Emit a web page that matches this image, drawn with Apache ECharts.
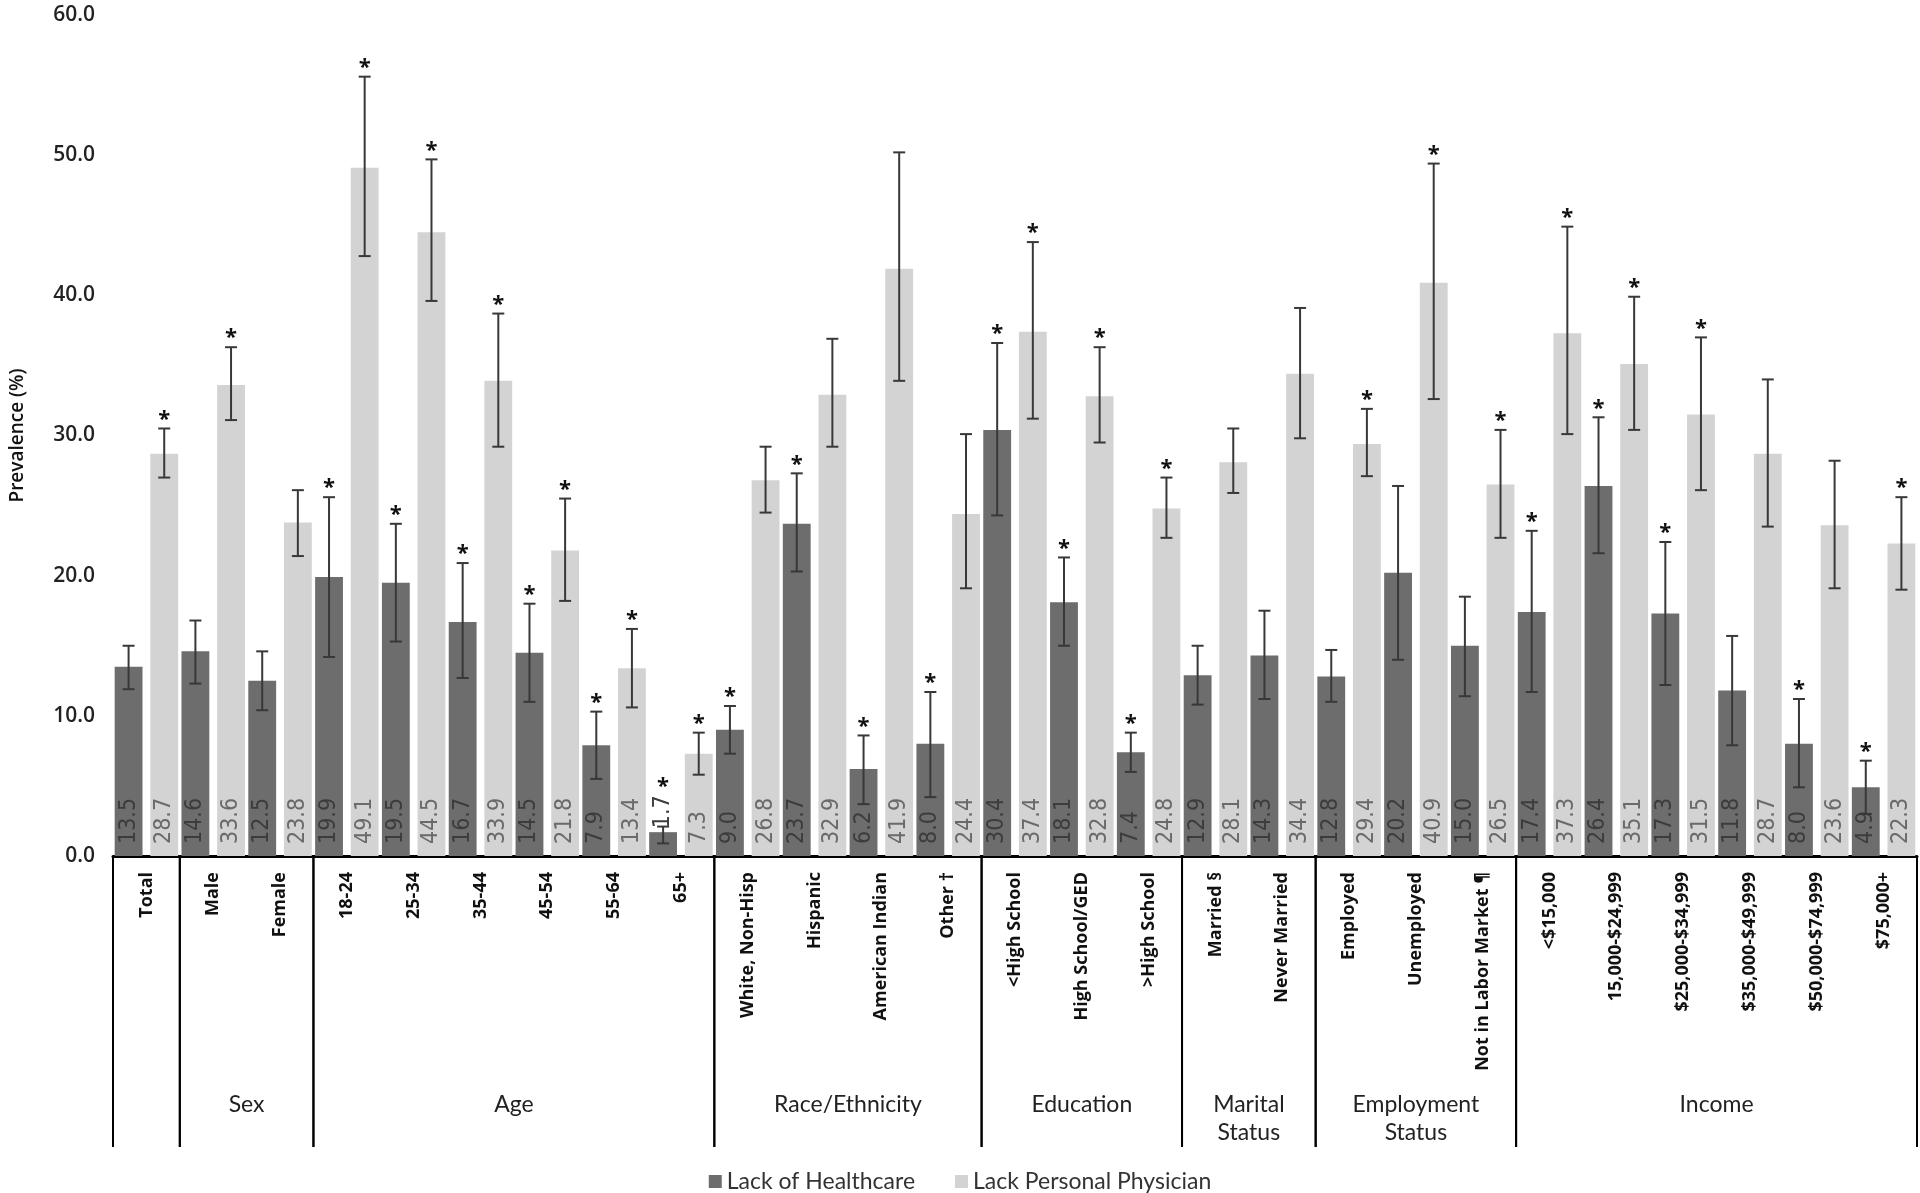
<!DOCTYPE html>
<html>
<head>
<meta charset="utf-8">
<script src="https://cdn.jsdelivr.net/npm/echarts@6/dist/echarts.min.js"></script>
<style>
  html, body { margin: 0; padding: 0; background: #fff; }
  .chart { width: 1920px; height: 1193px; }
</style>
</head>
<body>
<div class="chart"></div>
<script>
// categories along the x axis
var categories = ['Total', 'Male', 'Female', '18-24', '25-34', '35-44', '45-54', '55-64', '65+',
  'White, Non-Hisp', 'Hispanic', 'American Indian', 'Other \u2020',
  '<High School', 'High School/GED', '>High School',
  'Married \u00a7', 'Never Married',
  'Employed', 'Unemployed', 'Not in Labor Market \u00b6',
  '<$15,000', '15,000-$24,999', '$25,000-$34,999', '$35,000-$49,999', '$50,000-$74,999', '$75,000+'];

// Lack of Healthcare
var careValues = [13.5, 14.6, 12.5, 19.9, 19.5, 16.7, 14.5, 7.9, 1.7, 9.0, 23.7, 6.2, 8.0, 30.4, 18.1, 7.4, 12.9, 14.3, 12.8, 20.2, 15.0, 17.4, 26.4, 17.3, 11.8, 8.0, 4.9];
var careLow = [11.9, 12.3, 10.4, 14.2, 15.3, 12.7, 11.0, 5.5, 0.9, 7.3, 20.3, 3.7, 4.2, 24.3, 15.0, 6.0, 10.8, 11.2, 11.0, 14.0, 11.4, 11.7, 21.6, 12.2, 7.9, 4.9, 3.0];
var careHigh = [15.0, 16.8, 14.6, 25.6, 23.7, 20.9, 18.0, 10.3, 2.1, 10.7, 27.3, 8.6, 11.7, 36.6, 21.3, 8.8, 15.0, 17.5, 14.7, 26.4, 18.5, 23.2, 31.3, 22.4, 15.7, 11.2, 6.8];
var careStar = [0, 0, 0, 1, 1, 1, 1, 1, 1, 1, 1, 1, 1, 1, 1, 1, 0, 0, 0, 0, 0, 1, 1, 1, 0, 1, 1];

// Lack Personal Physician
var physValues = [28.7, 33.6, 23.8, 49.1, 44.5, 33.9, 21.8, 13.4, 7.3, 26.8, 32.9, 41.9, 24.4, 37.4, 32.8, 24.8, 28.1, 34.4, 29.4, 40.9, 26.5, 37.3, 35.1, 31.5, 28.7, 23.6, 22.3];
var physLow = [27.0, 31.1, 21.4, 42.8, 39.6, 29.2, 18.2, 10.6, 5.8, 24.5, 29.2, 33.9, 19.1, 31.2, 29.5, 22.7, 25.9, 29.8, 27.1, 32.6, 22.7, 30.1, 30.4, 26.1, 23.5, 19.1, 19.0];
var physHigh = [30.5, 36.3, 26.1, 55.6, 49.7, 38.7, 25.5, 16.2, 8.8, 29.2, 36.9, 50.2, 30.1, 43.8, 36.3, 27.0, 30.5, 39.1, 31.9, 49.4, 30.4, 44.9, 39.9, 37.0, 34.0, 28.2, 25.6];
var physStar = [1, 1, 0, 1, 1, 1, 1, 1, 1, 0, 0, 0, 0, 1, 1, 1, 0, 0, 1, 1, 1, 1, 1, 1, 0, 0, 1];

// category groups under the axis
var groupNames = ['', 'Sex', 'Age', 'Race/Ethnicity', 'Education', 'Marital\nStatus', 'Employment\nStatus', 'Income'];
var groupStart = [0, 1, 3, 9, 13, 16, 18, 21];
var groupEnd = [0, 2, 8, 12, 15, 17, 20, 26];

var yTicks = [0, 10, 20, 30, 40, 50, 60];

var CAT_GAP = 0.05, BAR_GAP = 0.28;
var SMALL = 3; // bars too short for an inside label
var narrow = '"Liberation Sans Narrow", "DejaVu Sans Condensed", sans-serif';

var chart = echarts.init(document.getElementsByClassName('chart')[0]);

// error bar + asterisk, sign = -1 for left bar, +1 for right bar
function errorBars(sign) {
  return function (params, api) {
    var i = api.value(0);
    var lo = api.coord([i, api.value(1)]);
    var hi = api.coord([i, api.value(2)]);
    var band = api.size([1, 0])[0];
    var bw = band * (1 - CAT_GAP) / (2 + BAR_GAP);
    var x = lo[0] + sign * (bw + bw * BAR_GAP) / 2;
    var cap = 6;
    var st = { stroke: '#383838', lineWidth: 2 };
    var kids = [
      { type: 'line', shape: { x1: x, y1: lo[1], x2: x, y2: hi[1] }, style: st },
      { type: 'line', shape: { x1: x - cap, y1: hi[1], x2: x + cap, y2: hi[1] }, style: st },
      { type: 'line', shape: { x1: x - cap, y1: lo[1], x2: x + cap, y2: lo[1] }, style: st }
    ];
    if (api.value(3)) {
      var v = api.value(4);
      var sy = hi[1] + 2;
      // short bar: label sits on top, star goes above the label
      if (v < SMALL) sy = api.coord([i, v])[1] - 34;
      kids.push({
        type: 'text',
        style: { text: '*', x: x, y: sy, align: 'center', verticalAlign: 'bottom',
          fill: '#111', font: 'bold 22px "Open Sans"' }
      });
    }
    return { type: 'group', children: kids };
  };
}

// group boxes and names below the axis
function groupBoxes(params, api) {
  var band = api.size([1, 0])[0];
  var p0 = api.coord([api.value(0), 0]);
  var p1 = api.coord([api.value(1), 0]);
  var x0 = p0[0] - band / 2, x1 = p1[0] + band / 2, y = p0[1];
  var st = { stroke: '#000', lineWidth: 2 };
  return {
    type: 'group',
    children: [
      { type: 'line', shape: { x1: x0, y1: y, x2: x0, y2: y + 291 }, style: st },
      { type: 'line', shape: { x1: x1, y1: y, x2: x1, y2: y + 291 }, style: st },
      { type: 'text', style: { text: groupNames[params.dataIndex], x: (x0 + x1) / 2, y: y + 235,
          align: 'center', verticalAlign: 'top', fill: '#222', lineHeight: 28,
          font: '23px Lato' } }
    ]
  };
}

function barData(vals) {
  return vals.map(function (v) {
    if (v < SMALL) return { value: v, label: { position: 'top', distance: 4 } };
    return v;
  });
}

function valueLabel(color) {
  return {
    show: true, position: 'insideBottom', rotate: 90, align: 'left', verticalAlign: 'middle',
    distance: 12, color: color, fontFamily: narrow, fontSize: 23,
    formatter: function (p) { return p.value.toFixed(1); }
  };
}

var option = {
  animation: false,
  grid: { left: 111, right: 3, top: 15, bottom: 337 },
  legend: {
    data: ['Lack of Healthcare', 'Lack Personal Physician'],
    top: 1165,
    left: 'center',
    icon: 'rect',
    itemWidth: 13,
    itemHeight: 13,
    itemGap: 40,
    textStyle: { fontFamily: 'Lato', fontSize: 23, color: '#333' }
  },
  xAxis: {
    type: 'category',
    data: categories,
    axisLine: { lineStyle: { color: '#000', width: 3 } },
    axisTick: { show: false },
    axisLabel: {
      interval: 0,
      rotate: 90,
      margin: 16,
      color: '#111',
      fontFamily: 'Open Sans',
      fontWeight: 700,
      fontSize: 18
    }
  },
  yAxis: {
    type: 'value',
    min: 0,
    max: 60,
    interval: 10,
    name: 'Prevalence (%)',
    nameLocation: 'middle',
    nameGap: 86,
    nameTextStyle: { fontFamily: 'Open Sans', fontWeight: 600, fontSize: 19, color: '#111' },
    axisLine: { show: false },
    axisTick: { show: false },
    splitLine: { show: false },
    axisLabel: {
      margin: 18,
      color: '#222',
      fontFamily: 'Open Sans',
      fontWeight: 600,
      fontSize: 21,
      formatter: function (v) { return yTicks.indexOf(v) >= 0 ? v.toFixed(1) : ''; }
    }
  },
  series: [
    {
      name: 'Lack of Healthcare',
      type: 'bar',
      data: barData(careValues),
      barGap: (BAR_GAP * 100) + '%',
      barCategoryGap: (CAT_GAP * 100) + '%',
      itemStyle: { color: '#6d6d6d' },
      label: valueLabel('#3c3c3c'),
      labelLayout: { hideOverlap: false }
    },
    {
      name: 'Lack Personal Physician',
      type: 'bar',
      data: barData(physValues),
      itemStyle: { color: '#d3d3d3' },
      label: valueLabel('#6a6a6a')
    },
    {
      type: 'custom',
      renderItem: errorBars(-1),
      clip: false,
      z: 5,
      encode: { x: 0, y: [1, 2] },
      data: careLow.map(function (v, i) { return [i, v, careHigh[i], careStar[i], careValues[i]]; })
    },
    {
      type: 'custom',
      renderItem: errorBars(1),
      clip: false,
      z: 5,
      encode: { x: 0, y: [1, 2] },
      data: physLow.map(function (v, i) { return [i, v, physHigh[i], physStar[i], physValues[i]]; })
    },
    {
      type: 'custom',
      renderItem: groupBoxes,
      clip: false,
      silent: true,
      encode: { x: [0, 1], y: 2 },
      data: groupStart.map(function (s, i) { return [s, groupEnd[i], 0]; })
    }
  ]
};

chart.setOption(option);
</script>
</body>
</html>
